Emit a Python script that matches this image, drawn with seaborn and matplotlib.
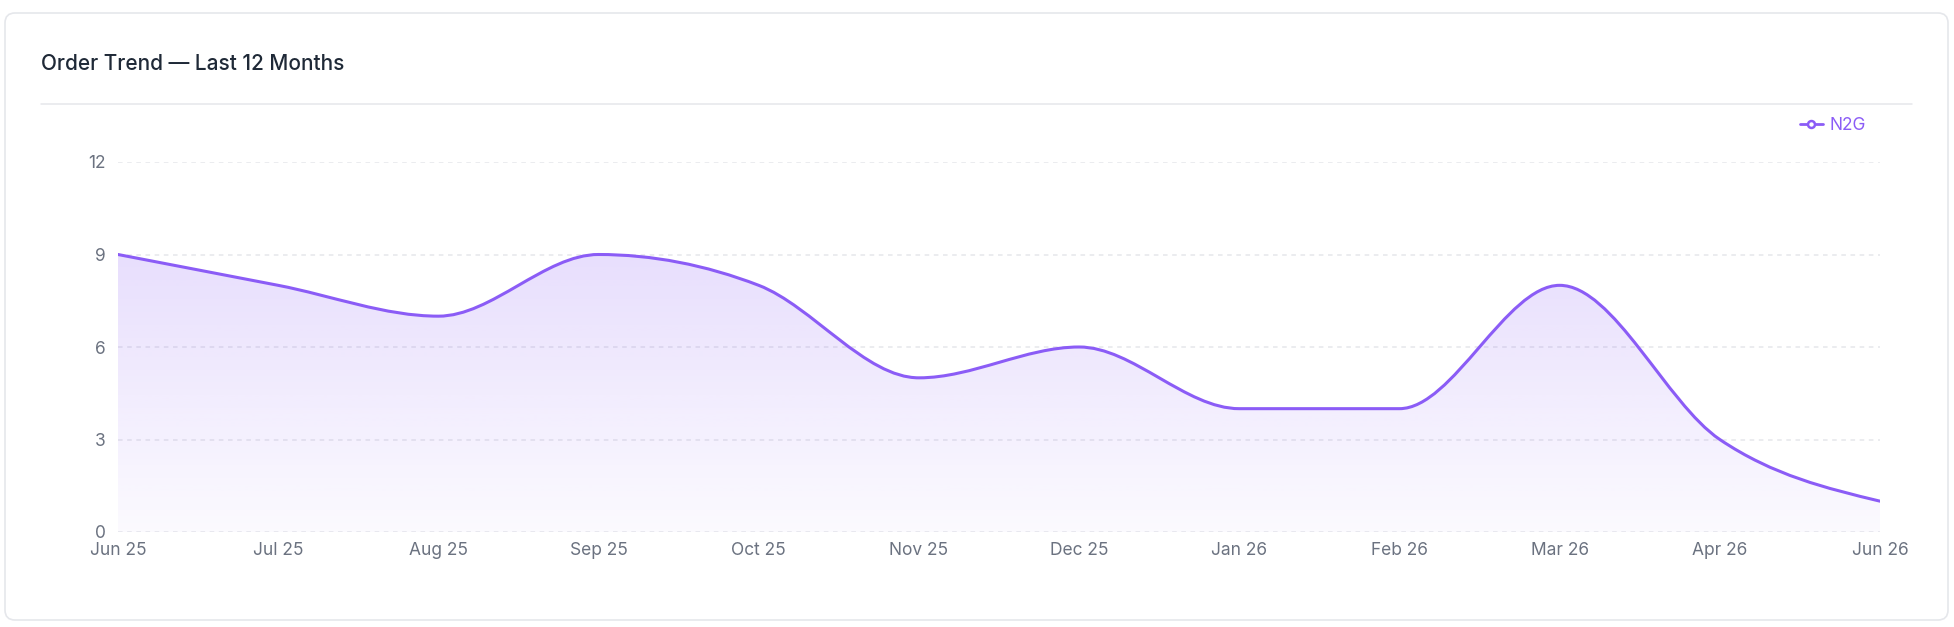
import numpy as np
import pandas as pd
import matplotlib
matplotlib.use("Agg")
import matplotlib.pyplot as plt
import seaborn as sns
from matplotlib.path import Path
from matplotlib.patches import PathPatch, FancyBboxPatch
from matplotlib.lines import Line2D

# ---- data ----
months = ["Jun 25", "Jul 25", "Aug 25", "Sep 25", "Oct 25", "Nov 25",
          "Dec 25", "Jan 26", "Feb 26", "Mar 26", "Apr 26", "Jun 26"]
orders = [9, 8, 7, 9, 8, 5, 6, 4, 4, 8, 3, 1]
series_name = "N2G"
y_ticks = [0, 3, 6, 9, 12]
title = "Order Trend \u2014 Last 12 Months"

LINE = "#8b5cf6"
GRID = "#e5e7eb"
TICK = "#6b7280"
TITLE_C = "#1f2937"

sns.set_theme(style="white")
plt.rcParams["font.family"] = ["Inter", "DejaVu Sans"]

W, H = 1954, 627
fig = plt.figure(figsize=(W / 100, H / 100), dpi=100)
fig.patch.set_facecolor("white")

# card
card = FancyBboxPatch((5 / 100, (H - 620) / 100), (1948 - 5) / 100, (620 - 13) / 100,
                      boxstyle="round,pad=0,rounding_size=0.1",
                      transform=fig.dpi_scale_trans, facecolor="none",
                      edgecolor=GRID, linewidth=1.2, zorder=-10)
fig.patches.append(card)

fig.text(41 / W, 1 - 64 / H, title, fontsize=15, color=TITLE_C,
         fontweight="medium", va="center", ha="left")
fig.add_artist(Line2D([41 / W, 1912 / W], [1 - 104 / H, 1 - 104 / H],
                      transform=fig.transFigure, color=GRID, lw=1.1))

left, right, top, bottom = 118, 1880, 162, 532
ax = fig.add_axes([left / W, 1 - bottom / H, (right - left) / W, (bottom - top) / H])
ax.set_facecolor("none")

df = pd.DataFrame({"month": months, "orders": orders})
df["idx"] = np.arange(len(df))
sns.lineplot(data=df, x="idx", y="orders", ax=ax, linewidth=0, legend=False)

# monotone-X cubic (d3 curveMonotoneX) path built from the data points
x = df["idx"].to_numpy(dtype=float)
y = df["orders"].to_numpy(dtype=float)
n = len(x)
t = np.zeros(n)
for i in range(1, n - 1):
    h0, h1 = x[i] - x[i - 1], x[i + 1] - x[i]
    s0, s1 = (y[i] - y[i - 1]) / h0, (y[i + 1] - y[i]) / h1
    p = (s0 * h1 + s1 * h0) / (h0 + h1)
    t[i] = (np.sign(s0) + np.sign(s1)) * min(abs(s0), abs(s1), 0.5 * abs(p))
t[0] = (3 * (y[1] - y[0]) / (x[1] - x[0]) - t[1]) / 2
t[-1] = (3 * (y[-1] - y[-2]) / (x[-1] - x[-2]) - t[-2]) / 2

verts = [(x[0], y[0])]
codes = [Path.MOVETO]
for i in range(n - 1):
    dx = (x[i + 1] - x[i]) / 3
    verts += [(x[i] + dx, y[i] + dx * t[i]), (x[i + 1] - dx, y[i + 1] - dx * t[i + 1]),
              (x[i + 1], y[i + 1])]
    codes += [Path.CURVE4] * 3
line_path = Path(verts, codes)
area_path = Path(verts + [(x[-1], 0), (x[0], 0), (x[0], y[0])],
                 codes + [Path.LINETO, Path.LINETO, Path.CLOSEPOLY])

ax.set_xlim(x[0], x[-1])
ax.set_ylim(0, 12)

# gradient fill
rgb = np.array(matplotlib.colors.to_rgb(LINE))
grad = np.zeros((256, 2, 4))
grad[..., :3] = rgb
alpha = np.linspace(0.03, 0.2, 256)
grad[..., 3] = alpha[:, None]
im = ax.imshow(grad, extent=[x[0], x[-1], 0, y.max()], origin="lower",
               aspect="auto", zorder=1, interpolation="bilinear")
clip = PathPatch(area_path, transform=ax.transData, facecolor="none", edgecolor="none")
ax.add_patch(clip)
im.set_clip_path(clip)

ax.add_patch(PathPatch(line_path, facecolor="none", edgecolor=LINE, lw=2.2,
                       zorder=3, capstyle="round", joinstyle="round"))

ax.set_xticks(x)
ax.set_xticklabels(months)
ax.set_yticks(y_ticks)
ax.set_xlabel("")
ax.set_ylabel("")
ax.tick_params(axis="both", length=0, labelsize=12.5, labelcolor=TICK)
ax.tick_params(axis="x", pad=7)
ax.tick_params(axis="y", pad=9)
ax.grid(axis="y", color=GRID, linestyle=(0, (3, 3)), linewidth=1.1, zorder=0)
ax.grid(axis="x", visible=False)
ax.set_axisbelow(True)
for s in ax.spines.values():
    s.set_visible(False)

handle = Line2D([], [], color=LINE, lw=2, marker="o", markersize=5,
                markerfacecolor="white", markeredgecolor=LINE, markeredgewidth=1.8)
leg = fig.legend([handle], [series_name], loc="center right",
                 bbox_to_anchor=(1866 / W, 1 - 126 / H), frameon=False,
                 fontsize=12.5, handlelength=1.3, handletextpad=0.4,
                 borderpad=0, borderaxespad=0)
for txt in leg.get_texts():
    txt.set_color(LINE)

fig.savefig("out.png", dpi=100, facecolor="white")
